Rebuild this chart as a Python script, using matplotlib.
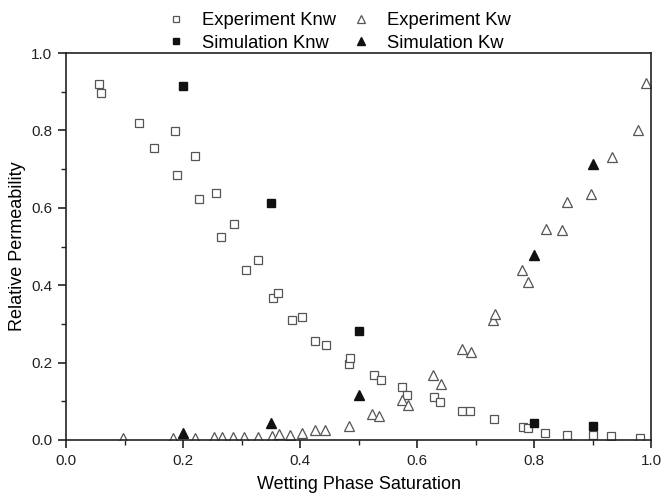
import numpy as np
import matplotlib.pyplot as plt
from matplotlib.ticker import MultipleLocator, FormatStrFormatter

plt.rcParams['font.family'] = ['Liberation Sans', 'DejaVu Sans']

# experiment, non-wetting phase (open squares)
exp_knw_x = [0.057, 0.059, 0.125, 0.151, 0.187, 0.190, 0.220, 0.227, 0.257, 0.265,
             0.287, 0.307, 0.328, 0.353, 0.363, 0.387, 0.403, 0.426, 0.444, 0.483,
             0.485, 0.526, 0.539, 0.575, 0.582, 0.629, 0.639, 0.677, 0.691, 0.732,
             0.781, 0.789, 0.819, 0.857, 0.900, 0.931, 0.981]
exp_knw_y = [0.920, 0.898, 0.820, 0.754, 0.798, 0.685, 0.733, 0.623, 0.638, 0.524,
             0.558, 0.439, 0.464, 0.368, 0.381, 0.309, 0.318, 0.257, 0.245, 0.197,
             0.211, 0.167, 0.154, 0.138, 0.116, 0.110, 0.097, 0.075, 0.075, 0.053,
             0.034, 0.030, 0.018, 0.012, 0.012, 0.010, 0.006]

# experiment, wetting phase (open triangles)
exp_kw_x = [0.098, 0.183, 0.221, 0.253, 0.266, 0.285, 0.304, 0.328, 0.352, 0.364,
            0.383, 0.403, 0.426, 0.443, 0.483, 0.523, 0.535, 0.574, 0.585, 0.628,
            0.641, 0.676, 0.693, 0.729, 0.734, 0.779, 0.790, 0.820, 0.847, 0.857,
            0.898, 0.933, 0.978, 0.991]
exp_kw_y = [0.006, 0.006, 0.006, 0.008, 0.008, 0.008, 0.008, 0.008, 0.010, 0.015,
            0.014, 0.018, 0.027, 0.026, 0.035, 0.066, 0.062, 0.103, 0.091, 0.169,
            0.145, 0.235, 0.228, 0.310, 0.325, 0.438, 0.407, 0.545, 0.543, 0.614,
            0.637, 0.732, 0.801, 0.923]

# simulation
sim_x = [0.2, 0.35, 0.5, 0.8, 0.9]
sim_knw = [0.915, 0.613, 0.281, 0.043, 0.035]
sim_kw = [0.018, 0.045, 0.115, 0.477, 0.712]


def main():
    fig = plt.figure(figsize=(6.61, 4.96), dpi=100)
    ax = fig.add_axes([0.100, 0.113, 0.885, 0.780])

    h1, = ax.plot(exp_knw_x, exp_knw_y, 's', ms=6, mfc='white', mec='#555555',
                  mew=0.9, ls='none')
    h2, = ax.plot(sim_x, sim_knw, 's', ms=6, mfc='#111111', mec='#111111',
                  ls='none')
    h3, = ax.plot(exp_kw_x, exp_kw_y, '^', ms=7, mfc='white', mec='#555555',
                  mew=0.9, ls='none')
    h4, = ax.plot(sim_x, sim_kw, '^', ms=7, mfc='#111111', mec='#111111',
                  ls='none')

    ax.set_xlim(0, 1.0)
    ax.set_ylim(0, 1.0)
    ax.xaxis.set_major_locator(MultipleLocator(0.2))
    ax.xaxis.set_minor_locator(MultipleLocator(0.1))
    ax.yaxis.set_major_locator(MultipleLocator(0.2))
    ax.yaxis.set_minor_locator(MultipleLocator(0.1))
    ax.xaxis.set_major_formatter(FormatStrFormatter('%.1f'))
    ax.yaxis.set_major_formatter(FormatStrFormatter('%.1f'))
    ax.tick_params(which='major', direction='out', length=6, width=1.2,
                   labelsize=11, pad=4, colors='#222222')
    ax.tick_params(which='minor', direction='out', length=3.5, width=1.0,
                   colors='#222222')
    for s in ax.spines.values():
        s.set_linewidth(1.2)
        s.set_color('#222222')

    ax.set_xlabel('Wetting Phase Saturation', fontsize=13, labelpad=6)
    ax.set_ylabel('Relative Permeability', fontsize=13, labelpad=4)

    fig.legend([h1, h2, h3, h4],
               ['Experiment Knw', 'Simulation Knw', 'Experiment Kw', 'Simulation Kw'],
               ncol=2, loc='upper left', bbox_to_anchor=(0.245, 0.975),
               borderaxespad=0, borderpad=0,
               frameon=False, fontsize=13.2, markerscale=0.8, handletextpad=0.66,
               columnspacing=0.66, labelspacing=0.3, handlelength=1.5)

    fig.savefig('out.png', dpi=100)


if __name__ == '__main__':
    main()
